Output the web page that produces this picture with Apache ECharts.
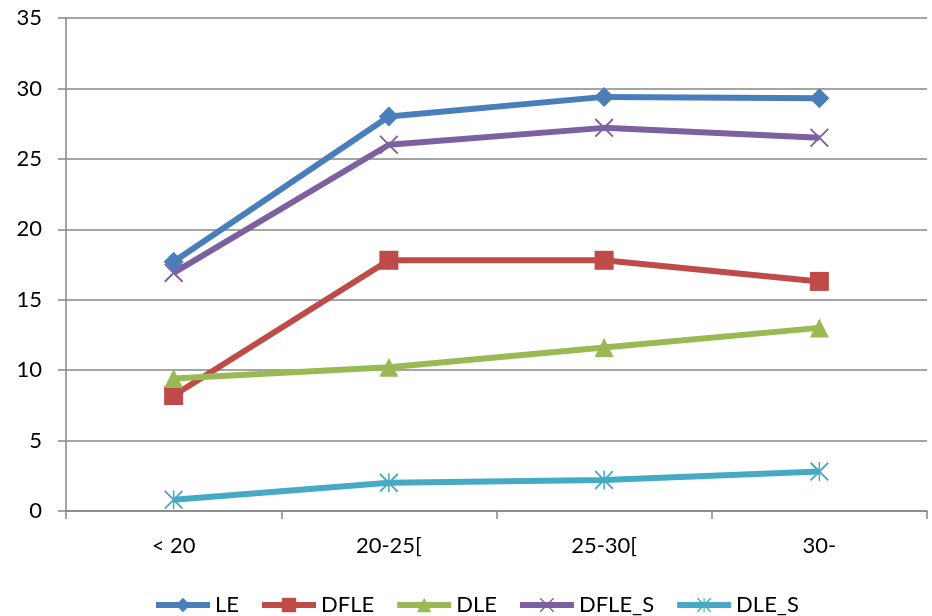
<!DOCTYPE html>
<html>
<head>
<meta charset="utf-8">
<title>LE / DFLE / DLE</title>
<script src="https://cdn.jsdelivr.net/npm/echarts@6/dist/echarts.min.js"></script>
<style>
  html, body { margin: 0; padding: 0; background: #fff; }
  #chart { width: 932px; height: 616px; }
</style>
</head>
<body>
<div id="chart"></div>
<script>
// Age groups on the category axis
const categories = ['< 20', '20-25[', '25-30[', '30-'];

// Series values per age group
const LE     = [17.7, 28.0, 29.4, 29.3];
const DFLE   = [8.2, 17.8, 17.8, 16.3];
const DLE    = [9.4, 10.2, 11.6, 13.0];
const DFLE_S = [16.9, 26.0, 27.2, 26.5];
const DLE_S  = [0.8, 2.0, 2.2, 2.8];

// Value axis range
const yMin = 0, yMax = 35, yStep = 5;

const FONT = 'Lato, "Noto Sans", sans-serif';

// Thin stroke-like marker shapes drawn as filled outlines
const crossPath = 'path://M0,7 L7,0 L100,93 L93,100 Z M93,0 L100,7 L7,100 L0,93 Z';
const starPath  = 'path://M0,7 L7,0 L100,93 L93,100 Z M93,0 L100,7 L7,100 L0,93 Z M46,0 L54,0 L54,100 L46,100 Z';

function lineSeries(name, data, color, symbol, size) {
  return {
    name: name,
    type: 'line',
    data: data,
    symbol: symbol,
    symbolSize: size,
    showAllSymbol: true,
    lineStyle: { color: color, width: 6 },
    itemStyle: { color: color },
    emphasis: { disabled: true },
    z: 3
  };
}

const chart = echarts.init(document.getElementById('chart'), null, { renderer: 'canvas' });

chart.setOption({
  animation: false,
  backgroundColor: '#ffffff',
  grid: { left: 66, right: 5, top: 18, bottom: 105, containLabel: false },
  xAxis: {
    type: 'category',
    data: categories,
    boundaryGap: true,
    axisLine: { show: true, lineStyle: { color: '#868686', width: 1.5 } },
    axisTick: { show: true, length: 8, alignWithLabel: false, lineStyle: { color: '#868686', width: 1.5 } },
    axisLabel: { color: '#000', fontSize: 22, fontFamily: FONT, margin: 24 },
    splitLine: { show: false }
  },
  yAxis: {
    type: 'value',
    min: yMin,
    max: yMax,
    interval: yStep,
    axisLine: { show: true, lineStyle: { color: '#868686', width: 1.5 } },
    axisTick: { show: true, length: 8, lineStyle: { color: '#868686', width: 1.5 } },
    axisLabel: { color: '#000', fontSize: 22, fontFamily: FONT, margin: 24 },
    splitLine: { show: true, lineStyle: { color: '#868686', width: 1.5 } }
  },
  legend: {
    top: 589,
    left: 148,
    itemWidth: 54,
    itemHeight: 18,
    itemGap: 20,
    lineStyle: { width: 6 },
    textStyle: { color: '#000', fontSize: 22, fontFamily: FONT },
    data: ['LE', 'DFLE', 'DLE', 'DFLE_S', 'DLE_S']
  },
  series: [
    lineSeries('LE', LE, '#4A7EBB', 'diamond', 20),
    lineSeries('DFLE', DFLE, '#BE4B48', 'rect', 19),
    lineSeries('DLE', DLE, '#98B954', 'triangle', 19),
    lineSeries('DFLE_S', DFLE_S, '#7D60A0', crossPath, 19),
    lineSeries('DLE_S', DLE_S, '#46AAC5', starPath, 19)
  ]
});
</script>
</body>
</html>
